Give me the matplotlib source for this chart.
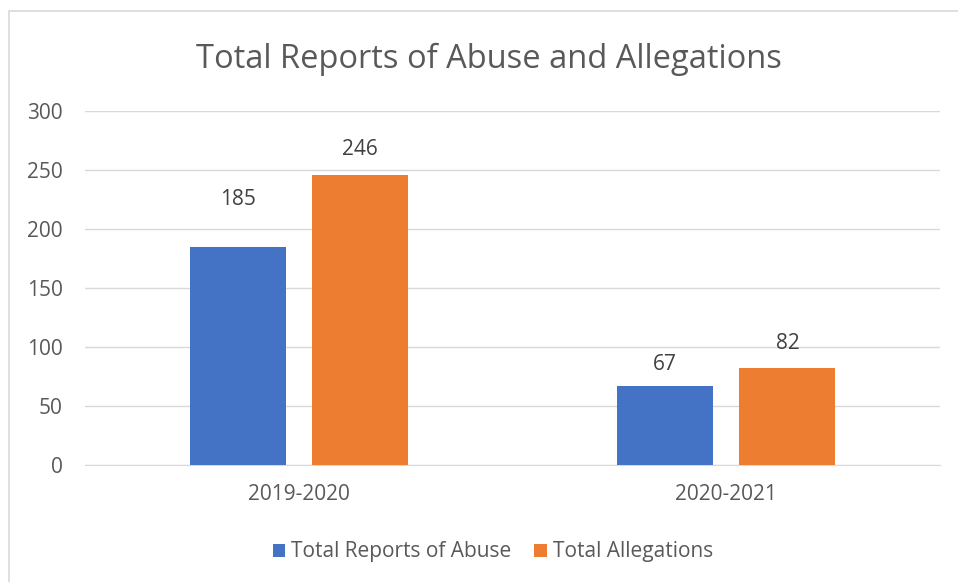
import numpy as np
import matplotlib.pyplot as plt
from matplotlib.patches import Rectangle

plt.rcParams['font.family'] = ['Open Sans', 'DejaVu Sans']

years = ["2019-2020", "2020-2021"]
reports = [185, 67]
allegations = [246, 82]
series_names = ["Total Reports of Abuse", "Total Allegations"]

blue = '#4472C4'
orange = '#ED7D31'
text_gray = '#595959'

fig = plt.figure(figsize=(9.58, 5.82), dpi=100)
ax = fig.add_axes([85 / 958, 117 / 582, 855 / 958, 354 / 582])

# chart border (only top and left are visible in the crop)
fig.patches.append(Rectangle((9 / 958, -0.1), 1.2, (582 - 11) / 582 + 0.1,
                             transform=fig.transFigure, fill=False,
                             edgecolor='#d9d9d9', linewidth=1.2))

x = np.arange(len(years))
w = 0.225
off = 0.143
b1 = ax.bar(x - off, reports, w, color=blue, label=series_names[0], zorder=3)
b2 = ax.bar(x + off, allegations, w, color=orange, label=series_names[1], zorder=3)

# label offsets in points (the first one sits higher in the original)
label_offsets = {(0, 0): 34, (0, 1): 15.5, (1, 0): 18.5, (1, 1): 17.5}
for si, bars in enumerate((b1, b2)):
    for ci, rect in enumerate(bars):
        h = rect.get_height()
        ax.annotate(f"{h:g}", (rect.get_x() + rect.get_width() / 2, h),
                    xytext=(0, label_offsets[(si, ci)]), textcoords='offset points',
                    ha='center', va='center', fontsize=15, color='#404040')

ax.set_xlim(-0.5, 1.5)
ax.set_ylim(0, 300)
ax.set_yticks(range(0, 301, 50))
ax.set_xticks(x)
ax.set_xticklabels(years)
ax.grid(axis='y', color='#d9d9d9', linewidth=1, zorder=0)
for s in ['top', 'right', 'left']:
    ax.spines[s].set_visible(False)
ax.spines['bottom'].set_color('#d9d9d9')
ax.tick_params(axis='both', length=0, labelsize=15, labelcolor=text_gray)
ax.tick_params(axis='y', pad=16)
ax.tick_params(axis='x', pad=13.5)

fig.text(489 / 958, 1 - 59 / 582, "Total Reports of Abuse and Allegations",
         ha='center', va='center', fontsize=23.5, color=text_gray)

fig.legend(loc='center', bbox_to_anchor=(493 / 958, 1 - 552 / 582), ncol=2,
           frameon=False, fontsize=15, labelcolor=text_gray,
           handlelength=0.6, handleheight=0.6, handletextpad=0.3, columnspacing=1.1)

fig.savefig('out.png', dpi=100)
